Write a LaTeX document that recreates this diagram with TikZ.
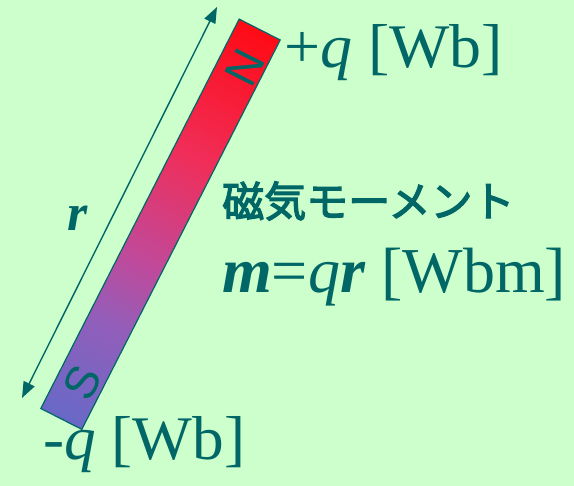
\documentclass[tikz,border=0pt]{standalone}
\usepackage{fontspec}
\setmainfont{Liberation Serif}
\setsansfont{Liberation Sans}
\newfontfamily\jpfont{Noto Sans CJK JP}
\usetikzlibrary{arrows.meta,positioning,calc}

\definecolor{bgmint}{RGB}{204,255,204}
\definecolor{tealtext}{RGB}{0,102,102}
\pgfdeclarehorizontalshading{magnetshade}{100bp}{%
  rgb(0bp)=(0.41,0.41,0.78); rgb(25bp)=(0.41,0.41,0.78);
  rgb(37bp)=(0.57,0.37,0.73); rgb(45bp)=(0.75,0.29,0.61);
  rgb(58.5bp)=(0.94,0.18,0.35); rgb(75bp)=(1,0.04,0.08);
  rgb(100bp)=(1,0.04,0.08)}

\begin{document}
\begin{tikzpicture}[
  x=1pt,y=1pt,
  magnet/.style={draw=tealtext,line width=1.2pt,shading=magnetshade},
  pole/.style={text=tealtext,font=\sffamily\fontsize{46}{46}\selectfont,rotate=63,inner sep=0pt},
  qlab/.style={text=tealtext,font=\fontsize{62}{62}\selectfont,inner sep=0pt,anchor=base west},
  jlab/.style={text=tealtext,font=\jpfont\addfontfeature{FakeBold=3}\fontsize{42}{42}\selectfont,inner sep=0pt,anchor=west},
  dimarr/.style={{Triangle[length=16pt,width=12pt]}-{Triangle[length=16pt,width=12pt]},
    draw=tealtext,line width=1.4pt}
]
\fill[bgmint] (0,0) rectangle (574,486);
\useasboundingbox (0,0) rectangle (574,486);

% -------------------------
% Bar magnet
% -------------------------
\coordinate (bar) at (160.5,261.75);
\begin{scope}[transform canvas={rotate around={63:(bar)}}]
  \shade[magnet] ($(bar)+(-218.5,-23)$) rectangle ($(bar)+(218.5,23)$);
\end{scope}
\node[pole] (N) at (245,418) {N};
\node[pole] (S) at (82,103) {S};

% -------------------------
% Length r
% -------------------------
\coordinate (rS) at (22,88);
\coordinate (rN) at (217,479);
\draw[dimarr] (rS) -- (rN);
\node[text=tealtext,font=\bfseries\itshape\fontsize{52}{52}\selectfont,inner sep=0pt] (r) at (78,268) {r};

% -------------------------
% Labels
% -------------------------
\node[qlab,xscale=1.03] (qN) at (284,418) {+\textit{q} [Wb]};
\node[qlab,xscale=1.02] (qS) at (43,26) {-\textit{q} [Wb]};
\node[jlab] (moment) at (222,285) {磁気モーメント};
\node[qlab,font=\fontsize{64}{64}\selectfont] (mqr) at (222,193) {\textbf{\textit{m}}=\textit{q}\textbf{\textit{r}} [Wbm]};

\end{tikzpicture}
\end{document}
